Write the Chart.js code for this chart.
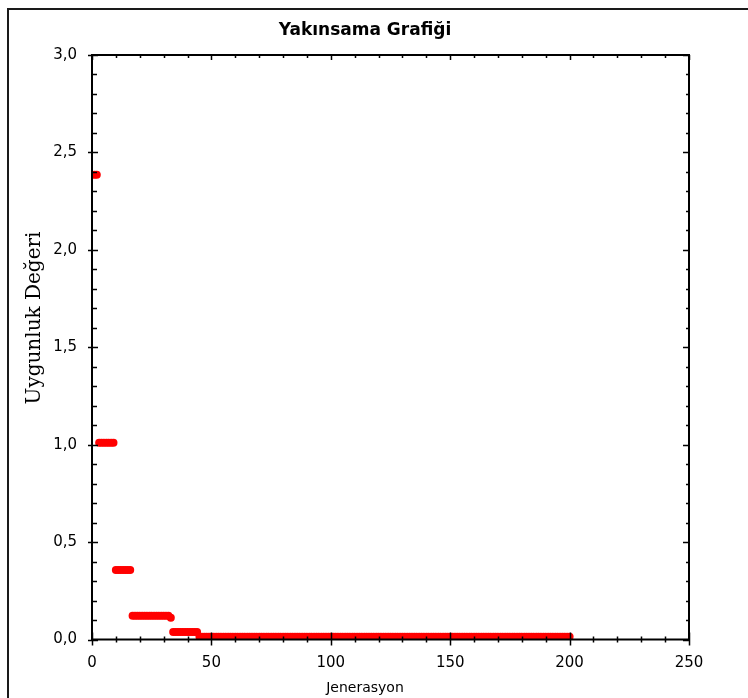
<!DOCTYPE html>
<html>
<head>
<meta charset="utf-8">
<script src="https://cdn.jsdelivr.net/npm/chart.js@4/dist/chart.umd.min.js"></script>
<style>
  body { margin: 0; background: #fff; }
  #wrap { width: 748px; height: 698px; }
</style>
</head>
<body>
<div id="wrap"><canvas id="chart" width="748" height="698"></canvas></div>
<script>
// best fitness per generation (1..200)
const fitness = [
  2.385, 2.385, 1.01, 1.01, 1.01, 1.01, 1.01, 1.01, 1.01, 0.357, 0.357, 0.357, 0.357, 0.357, 0.357, 0.357, 0.122, 0.122, 0.122, 0.122,
  0.122, 0.122, 0.122, 0.122, 0.122, 0.122, 0.122, 0.122, 0.122, 0.122, 0.122, 0.122, 0.112, 0.038, 0.038, 0.038, 0.038, 0.038, 0.038, 0.038,
  0.038, 0.038, 0.038, 0.038, 0.014, 0.014, 0.014, 0.014, 0.014, 0.014, 0.014, 0.014, 0.014, 0.014, 0.014, 0.014, 0.014, 0.014, 0.014, 0.014,
  0.014, 0.014, 0.014, 0.014, 0.014, 0.014, 0.014, 0.014, 0.014, 0.014, 0.014, 0.014, 0.014, 0.014, 0.014, 0.014, 0.014, 0.014, 0.014, 0.014,
  0.014, 0.014, 0.014, 0.014, 0.014, 0.014, 0.014, 0.014, 0.014, 0.014, 0.014, 0.014, 0.014, 0.014, 0.014, 0.014, 0.014, 0.014, 0.014, 0.014,
  0.014, 0.014, 0.014, 0.014, 0.014, 0.014, 0.014, 0.014, 0.014, 0.014, 0.014, 0.014, 0.014, 0.014, 0.014, 0.014, 0.014, 0.014, 0.014, 0.014,
  0.014, 0.014, 0.014, 0.014, 0.014, 0.014, 0.014, 0.014, 0.014, 0.014, 0.014, 0.014, 0.014, 0.014, 0.014, 0.014, 0.014, 0.014, 0.014, 0.014,
  0.014, 0.014, 0.014, 0.014, 0.014, 0.014, 0.014, 0.014, 0.014, 0.014, 0.014, 0.014, 0.014, 0.014, 0.014, 0.014, 0.014, 0.014, 0.014, 0.014,
  0.014, 0.014, 0.014, 0.014, 0.014, 0.014, 0.014, 0.014, 0.014, 0.014, 0.014, 0.014, 0.014, 0.014, 0.014, 0.014, 0.014, 0.014, 0.014, 0.014,
  0.014, 0.014, 0.014, 0.014, 0.014, 0.014, 0.014, 0.014, 0.014, 0.014, 0.014, 0.014, 0.014, 0.014, 0.014, 0.014, 0.014, 0.014, 0.014, 0.014
];

const chartTitle = "Yakınsama Grafiği";
const xTitle = "Jenerasyon";
const yTitle = "Uygunluk Değeri";
const xRange = [0, 250];
const yRange = [0, 3];

const points = fitness.map((v, i) => ({ x: i + 1, y: v }));

// box frame, inward minor/major ticks and the text around the plot
const decorations = {
  id: "decorations",
  afterDraw(chart) {
    const ctx = chart.ctx;
    const a = chart.chartArea;
    const xs = chart.scales.x;
    const ys = chart.scales.y;
    ctx.save();

    // outer panel border (left and top edges)
    ctx.strokeStyle = "#1a1a1a";
    ctx.lineWidth = 2;
    ctx.beginPath();
    ctx.moveTo(8, 698);
    ctx.lineTo(8, 9);
    ctx.lineTo(748, 9);
    ctx.stroke();

    // plot box
    ctx.strokeStyle = "#000";
    ctx.lineWidth = 2;
    ctx.strokeRect(a.left, a.top, a.right - a.left, a.bottom - a.top);

    ctx.lineWidth = 1.5;
    ctx.beginPath();
    for (let i = 0; i <= 30; i++) {
      const py = Math.round(ys.getPixelForValue(i / 10)) + 0.5;
      const major = i % 5 === 0;
      ctx.moveTo(a.left - (major ? 4 : 1), py);
      ctx.lineTo(a.left + (major ? 6 : 5), py);
      ctx.moveTo(a.right, py);
      ctx.lineTo(a.right - (major ? 6 : 3), py);
    }
    for (let g = 0; g <= 250; g += 10) {
      const px = Math.round(xs.getPixelForValue(g)) + 0.5;
      const major = g % 50 === 0;
      ctx.moveTo(px, a.bottom + (major ? 6 : 3));
      ctx.lineTo(px, a.bottom - (major ? 7 : 3));
      ctx.moveTo(px, a.top);
      ctx.lineTo(px, a.top + (major ? 5 : 3));
    }
    ctx.stroke();

    ctx.fillStyle = "#000";
    ctx.textAlign = "center";
    ctx.textBaseline = "middle";
    ctx.font = "bold 17px 'DejaVu Sans'";
    ctx.fillText(chartTitle, 365, 31);

    ctx.font = "14px 'DejaVu Sans'";
    ctx.fillText(xTitle, 365, 688);

    ctx.translate(35, 318);
    ctx.rotate(-Math.PI / 2);
    ctx.font = "20px 'DejaVu Serif'";
    ctx.fillText(yTitle, 0, 0);
    ctx.restore();
  }
};

new Chart(document.getElementById("chart"), {
  type: "scatter",
  data: {
    datasets: [{
      data: points,
      backgroundColor: "#ff0000",
      borderWidth: 0,
      pointRadius: 4,
      pointHoverRadius: 4
    }]
  },
  options: {
    responsive: false,
    animation: false,
    layout: { padding: { top: 55, right: 59, bottom: 0, left: 0 } },
    plugins: {
      legend: { display: false },
      tooltip: { enabled: false }
    },
    scales: {
      x: {
        type: "linear",
        min: xRange[0],
        max: xRange[1],
        grid: { display: false },
        border: { display: false },
        ticks: {
          stepSize: 50,
          padding: 7,
          color: "#000",
          font: { family: "DejaVu Sans", size: 15 },
          maxRotation: 0
        },
        afterFit(scale) { scale.height = 58.5; }
      },
      y: {
        type: "linear",
        min: yRange[0],
        max: yRange[1],
        grid: { display: false },
        border: { display: false },
        ticks: {
          stepSize: 0.5,
          padding: 7,
          color: "#000",
          font: { family: "DejaVu Sans", size: 15 },
          callback: (v) => v.toFixed(1).replace(".", ",")
        },
        afterFit(scale) { scale.width = 92; }
      }
    }
  },
  plugins: [decorations]
});
</script>
</body>
</html>
